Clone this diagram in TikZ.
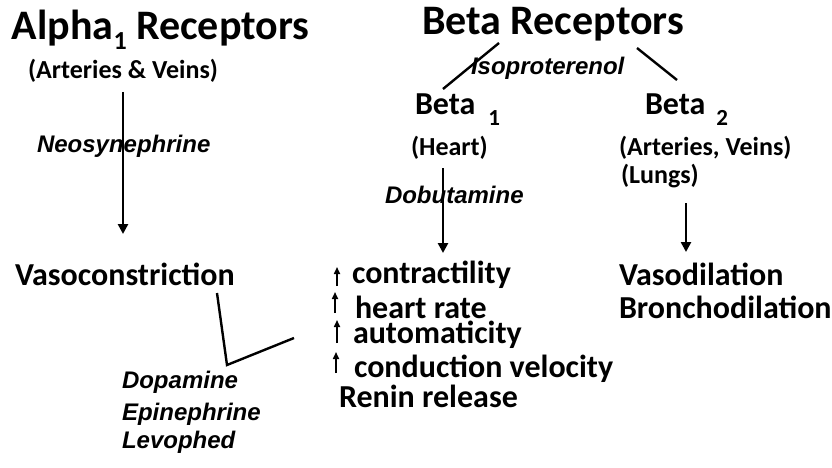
\documentclass[tikz,border=0pt]{standalone}
\usepackage{fontspec}
\setmainfont{Carlito}
\newfontfamily\labfont{Liberation Sans}
\usetikzlibrary{arrows.meta}
\tikzset{
  txt/.style={inner sep=0pt, outer sep=0pt, anchor=base west, text=black},
  t42/.style={txt, font=\fontsize{42}{48}\selectfont\bfseries},
  t32/.style={txt, font=\fontsize{32}{38}\selectfont\bfseries},
  t26/.style={txt, font=\fontsize{26}{30}\selectfont\bfseries},
  it24/.style={txt, font=\labfont\fontsize{24}{28}\selectfont\bfseries\itshape},
  bigarrow/.style={line width=2.6pt, -{Triangle[width=10pt,length=10pt]}},
  uparrow/.style={line width=1.6pt, -{Triangle[width=6pt,length=7pt]}},
  plain/.style={line width=2.4pt}
}
\newcommand{\subnum}[1]{\raisebox{-10pt}{\fontsize{23}{26}\selectfont #1}}
\begin{document}
\begin{tikzpicture}[x=1pt,y=-1pt]
\useasboundingbox (0,0) rectangle (832,468);
% titles
\node[t42] (alpha) at (12,40) {Alpha\raisebox{-10pt}{\fontsize{26}{30}\selectfont 1} Receptors};
\node[t42] (beta) at (422,35) {Beta Receptors};
\node[t26] (alphasub) at (28,79) {(Arteries \& Veins)};
\node[it24] (neo) at (37,153) {Neosynephrine};
\node[t32] (vaso) at (15,285) {Vasoconstriction};
\node[it24] (iso) at (471,75) {Isoproterenol};
\node[t32] (b1) at (415,115) {Beta\hspace{13pt}\subnum{1}};
\node[t32] (b2) at (645,115) {Beta\hspace{11pt}\subnum{2}};
\node[t26] (heart) at (411,155) {(Heart)};
\node[t26] (av) at (619,155) {(Arteries, Veins)};
\node[t26] (lungs) at (621,183) {(Lungs)};
\node[it24] (dob) at (385,203) {Dobutamine};
% beta1 effects
\node[t32] (contr) at (352,283) {contractility};
\node[t32] (hr) at (355,318) {heart rate};
\node[t32] (auto) at (353,343) {automaticity};
\node[t32] (cond) at (354,377) {conduction velocity};
\node[t32] (renin) at (339,407) {Renin release};
% beta2 effects
\node[t32] (vdil) at (619,285) {Vasodilation};
\node[t32] (bdil) at (619,318) {Bronchodilation};
% mixed agents
\node[it24] (dop) at (122,388) {Dopamine};
\node[it24] (epi) at (122,420) {Epinephrine};
\node[it24] (levo) at (122,448) {Levophed};
% connector coordinates
\coordinate (a1s) at (123,92);
\coordinate (a1e) at (123,234);
\coordinate (b1s) at (443,168);
\coordinate (b1e) at (443,253);
\coordinate (b2s) at (686,203);
\coordinate (b2e) at (686,252);
\coordinate (l1s) at (499,43);
\coordinate (l1e) at (443,89);
\coordinate (l2s) at (637,48);
\coordinate (l2e) at (677,80);
\coordinate (v1) at (217,293);
\coordinate (v2) at (227,365);
\coordinate (v3) at (294,338);
\coordinate (u1s) at (337,286); \coordinate (u1e) at (337,267);
\coordinate (u2s) at (335,313); \coordinate (u2e) at (335,292);
\coordinate (u3s) at (337,343); \coordinate (u3e) at (337,320);
\coordinate (u4s) at (336,373); \coordinate (u4e) at (336,352);
% connectors
\draw[bigarrow] (a1s) -- (a1e);
\draw[bigarrow] (b1s) -- (b1e);
\draw[bigarrow] (b2s) -- (b2e);
\draw[plain] (l1s) -- (l1e);
\draw[plain] (l2s) -- (l2e);
\draw[plain] (v1) -- (v2) -- (v3);
\draw[uparrow] (u1s) -- (u1e);
\draw[uparrow] (u2s) -- (u2e);
\draw[uparrow] (u3s) -- (u3e);
\draw[uparrow] (u4s) -- (u4e);
\end{tikzpicture}
\end{document}
